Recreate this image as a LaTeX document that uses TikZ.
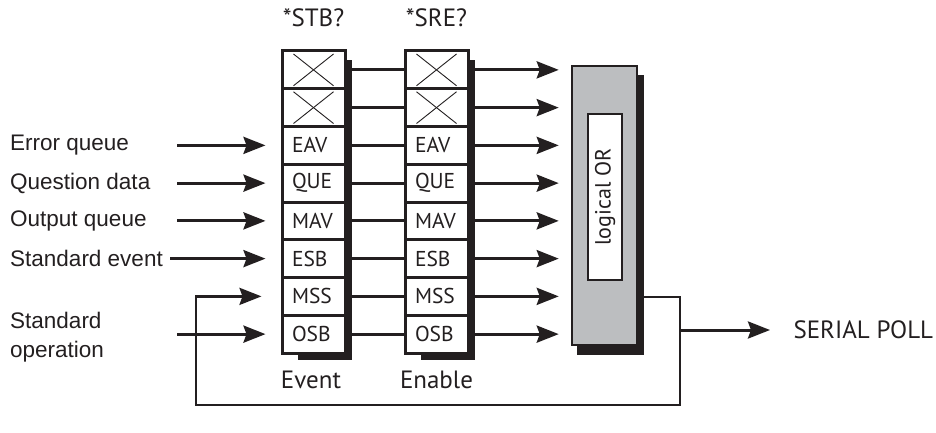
\documentclass[tikz,border=0pt]{standalone}
\usepackage{fontspec}
\setmainfont{Liberation Sans}
\newfontfamily\lbl{PT Sans}
\usetikzlibrary{arrows.meta}
\definecolor{ink}{HTML}{231F20}
\definecolor{orgray}{HTML}{BCBEC0}
\begin{document}
\begin{tikzpicture}[x=1pt,y=-1pt,
  reg/.style={draw=ink, line width=3pt, fill=white, minimum height=37.75pt,
    text width=43pt, inner xsep=10pt, inner ysep=0pt, align=left,
    font=\lbl\fontsize{21.5}{23}\selectfont, text=ink, anchor=center},
  conn/.style={draw=ink, line width=3pt},
  arr/.style={conn, -{Stealth[length=22pt,width=17pt,inset=3pt]}},
  xline/.style={draw=ink, line width=0.9pt},
  inlabel/.style={anchor=west, inner sep=0pt, font=\fontsize{22.5}{27}\selectfont, text=ink, align=left},
  title/.style={font=\lbl\fontsize{25}{28}\selectfont, text=ink}]
\useasboundingbox (0,0) rectangle (936,433);
% shadows
\fill[ink] (298,60) rectangle (352,360);
\fill[ink] (421,60) rectangle (475,360);
\fill[ink] (577,75) rectangle (644,355);
% register columns
\foreach \i/\t in {1/{},2/{},3/EAV,4/QUE,5/MAV,6/ESB,7/MSS,8/OSB}{
  \node[reg] (e\i) at (313.5,{51+37.75*(\i-0.5)}) {\t};
  \node[reg] (n\i) at (436.5,{51+37.75*(\i-0.5)}) {\t};
}
\foreach \c in {e,n}{
  \foreach \i in {1,2}{
    \draw[xline] ([xshift=13pt,yshift=-4.5pt]\c\i.north west) -- ([xshift=-13pt,yshift=4.5pt]\c\i.south east);
    \draw[xline] ([xshift=13pt,yshift=4.5pt]\c\i.south west) -- ([xshift=-13pt,yshift=-4.5pt]\c\i.north east);
  }
}
% OR box
\node[draw=ink, line width=2.5pt, fill=orgray, minimum width=65pt, minimum height=279pt, inner sep=0pt] (or) at (604.5,205.5) {};
\node[draw=ink, line width=2.5pt, fill=white, minimum width=166pt, minimum height=34pt, inner sep=0pt, rotate=90,
  font=\lbl\fontsize{22}{24}\selectfont, text=ink] (orl) at (605,197) {logical OR};
% connectors
\foreach \i in {1,...,8}{
  \draw[conn] (e\i.east) -- (n\i.west);
  \draw[arr, shorten >=12pt] (n\i.east) -- (n\i.east -| or.west);
}
% titles
\node[title] (stb) at (313.5,18) {*STB?};
\node[title] (sre) at (436.5,18) {*SRE?};
\node[title] (ev) at (311,380) {Event};
\node[title] (en) at (436.5,380) {Enable};
% inputs
\coordinate (inx) at (177,0);
\coordinate (inx2) at (170,0);
\node[inlabel] (l3) at (10,145.4) {Error queue};
\node[inlabel] (l4) at (10,183.1) {Question data};
\node[inlabel] (l5) at (10,220.9) {Output queue};
\node[inlabel] (l6) at (10,258.6) {Standard event};
\node[inlabel, font=\fontsize{22.5}{29}\selectfont] (l8) at (10,337) {Standard\\operation};
\draw[arr, shorten >=15pt] (e3.west -| inx) -- (e3.west);
\draw[arr, shorten >=15pt] (e4.west -| inx) -- (e4.west);
\draw[arr, shorten >=15pt] (e5.west -| inx) -- (e5.west);
\draw[arr, shorten >=15pt] (e6.west -| inx2) -- (e6.west);
\draw[arr, shorten >=15pt] (e8.west -| inx) -- (e8.west);
% feedback loop and output
\coordinate (orout) at (644,297);
\coordinate (loopr) at (680,405);
\coordinate (loopl) at (196,405);
\coordinate (jn) at (680,330);
\draw[conn, line width=2.8pt, -{Stealth[length=22pt,width=17pt,inset=3pt]}, shorten >=19pt] (orout) -| (loopr) -- (loopl) |- (e7.west);
\node[anchor=west, font=\lbl\fontsize{25}{28}\selectfont, text=ink] (sp) at (790,330) {SERIAL POLL};
\draw[arr, shorten >=20pt] (jn) -- (sp.west);
\end{tikzpicture}
\end{document}
